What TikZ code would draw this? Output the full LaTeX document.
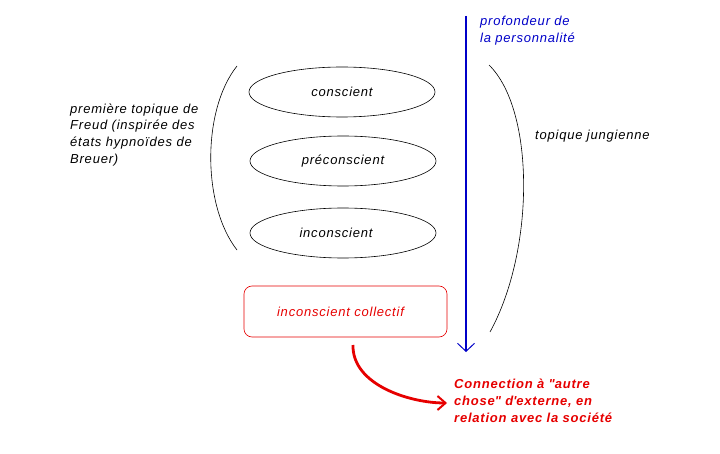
\documentclass[tikz,border=0pt]{standalone}
\usepackage{fontspec}
\setmainfont{Liberation Sans}[LetterSpace=6]
\usetikzlibrary{arrows.meta,shapes.geometric}
\definecolor{myblue}{RGB}{0,0,200}
\definecolor{myred}{RGB}{230,0,0}
\begin{document}
\begin{tikzpicture}[x=1pt,y=-1pt,
  lbl/.style={font=\fontsize{13}{16.7}\selectfont\itshape, inner sep=0pt, align=left},
  ell/.style={draw, ellipse, minimum width=186pt, minimum height=50pt, line width=0.6pt, font=\fontsize{13}{15}\selectfont\itshape},
  ]
\useasboundingbox (0,0) rectangle (720,454);
\node[ell] (c) at (342,92) {conscient};
\node[ell] (p) at (343,161) {préconscient};
\node[ell] (i) at (343,233) {inconscient\kern14pt\relax};
\node[draw=myred, rounded corners=8pt, minimum width=203pt, minimum height=51pt, line width=0.6pt, text=myred, font=\fontsize{13}{15}\selectfont\itshape] (ic) at (345.5,311.5) {inconscient collectif\kern10pt\relax};
% brackets
\coordinate (lb1) at (237,66);
\coordinate (lb2) at (237,250);
\draw[line width=0.6pt] (lb1) .. controls (202,110) and (202,205) .. (lb2);
\coordinate (rb1) at (489,65);
\coordinate (rb2) at (490,332);
\draw[line width=0.6pt] (rb1) .. controls (535,110) and (535,250) .. (rb2);
% blue arrow
\coordinate (bt) at (466,16);
\coordinate (bb) at (466,352);
\draw[myblue, line width=1.6pt, -{Straight Barb[length=8pt,width=17pt,line width=1pt]}] (bt) -- (bb);
\node[lbl, text=myblue, anchor=north west] (prof) at (480,16) {profondeur de\\la personnalité};
\node[lbl, anchor=west] (tj) at (535,136) {topique jungienne};
\node[lbl, anchor=north west] (fr) at (70,103.5) {première topique de\\Freud (inspirée des\\états hypnoïdes de\\Breuer)};
% red text and arrow
\node[lbl, text=myred, font=\fontsize{13}{16.8}\selectfont\bfseries\itshape, anchor=north west] (conn) at (454,379) {Connection à \textquotedbl autre\\chose\textquotedbl{} d\textquotesingle externe, en\\relation avec la société};
\coordinate (rs) at (353,345);
\coordinate (re) at (447,403);
\draw[myred, line width=2.8pt, -{Straight Barb[length=8pt,width=14pt,line width=2pt]}] (rs) .. controls (352,385) and (410,403) .. (re);
\end{tikzpicture}
\end{document}
